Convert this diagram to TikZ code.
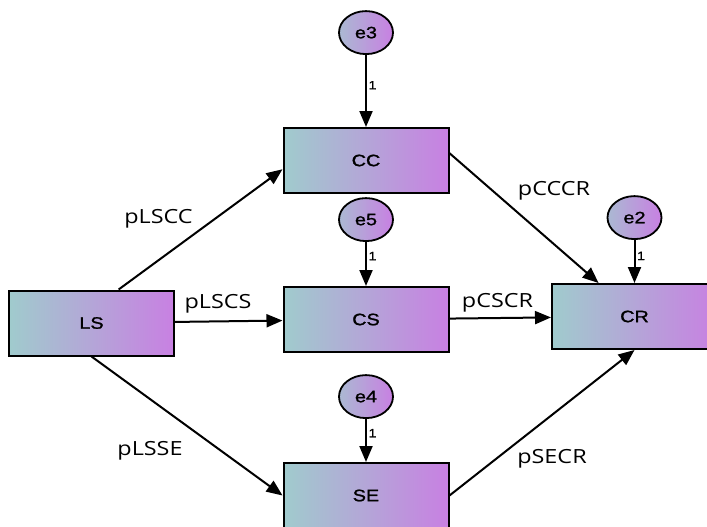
\documentclass[tikz,border=0pt]{standalone}
\usepackage{fontspec}
\newfontfamily\lblfont[FakeStretch=1.2]{Open Sans}
\newfontfamily\varfont[FakeStretch=1.2,FakeBold=1.3]{Liberation Sans}
\usetikzlibrary{arrows.meta,positioning,shapes.geometric}
\definecolor{shadeL}{RGB}{160,203,205}
\definecolor{shadeM}{RGB}{186,158,218}
\definecolor{shadeR}{RGB}{200,128,226}
\tikzset{
  var/.style={rectangle, draw=black, line width=2pt, left color=shadeL, middle color=shadeM, right color=shadeR, minimum width=165pt, minimum height=65pt, inner sep=0pt, font=\varfont\fontsize{16.5}{19}\selectfont},
  err/.style={ellipse, draw=black, line width=1.8pt, left color=shadeL!60!shadeM, right color=shadeR, minimum width=54pt, minimum height=43pt, inner sep=0pt, font=\varfont\fontsize{16.5}{19}\selectfont},
  coef/.style={anchor=base, inner sep=0pt, font=\lblfont\fontsize{19.5}{22}\selectfont},
  one/.style={inner sep=1.5pt, font=\varfont\fontsize{12}{14}\selectfont},
  arrow/.style={-{Triangle[length=16pt,width=13pt]}, line width=2pt}
}

\begin{document}
\begin{tikzpicture}[x=1pt, y=-1pt]
    \useasboundingbox (0,0) rectangle (707,527);
    \clip (0,0) rectangle (707,527);

    \node[var] (LS) at (91.5,323) {LS};
    \node[var] (CC) at (366,160.5) {CC};
    \node[var] (CS) at (366,319.5) {CS};
    \node[var] (SE) at (366,495.5) {SE};
    \node[var] (CR) at (634.5,316.5) {CR};

    \node[err, above=72pt of CC] (e3) {e3};
    \node[err, above=44pt of CS] (e5) {e5};
    \node[err, above=43pt of SE] (e4) {e4};
    \node[err, above=43pt of CR] (e2) {e2};

    \draw[arrow] (e3) -- node[one, right, pos=.42] (w3) {1} (CC);
    \draw[arrow] (e5) -- node[one, right, pos=.32] (w5) {1} (CS);
    \draw[arrow] (e4) -- node[one, right, pos=.33] (w4) {1} (SE);
    \draw[arrow] (e2) -- node[one, right, pos=.37] (w2) {1} (CR);

    \draw[arrow] (LS.51) -- (CC.186);
    \draw[arrow] (LS) -- (CS);
    \draw[arrow] (LS.south) -- (SE.west);
    \draw[arrow] (CC.5) -- (CR.137);
    \draw[arrow] (CS) -- (CR);
    \draw[arrow] (SE.east) -- (CR.south);

    % path coefficients
    \node[coef] (lLSCC) at (158.5,223) {pLSCC};
    \node[coef] (lLSCS) at (218,308) {pLSCS};
    \node[coef] (lLSSE) at (150,455) {pLSSE};
    \node[coef] (lCCCR) at (554,195) {pCCCR};
    \node[coef] (lCSCR) at (497.5,307) {pCSCR};
    \node[coef] (lSECR) at (552,463) {pSECR};
\end{tikzpicture}
\end{document}
